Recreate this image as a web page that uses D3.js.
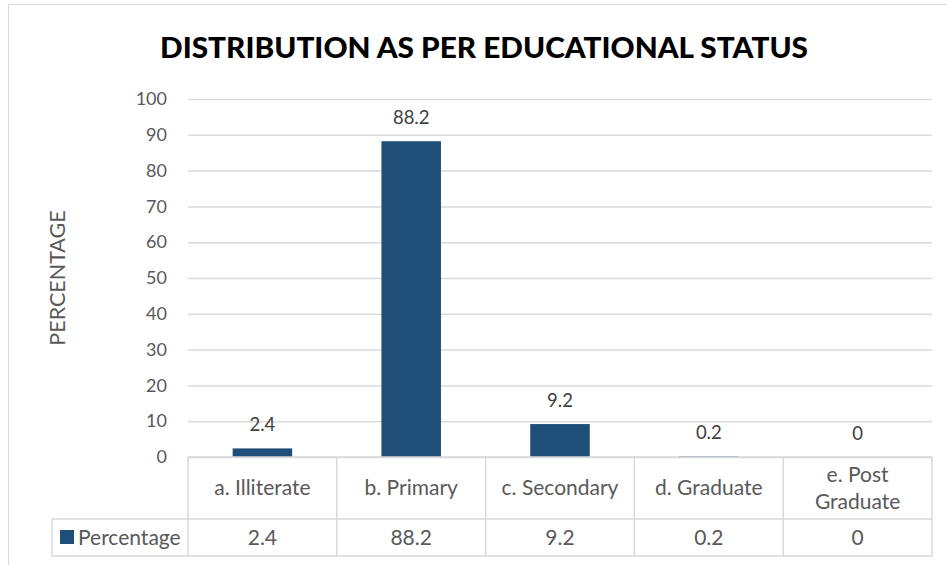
<!DOCTYPE html>
<html>
<head>
<meta charset="utf-8">
<script src="https://cdn.jsdelivr.net/npm/d3@7"></script>
<style>
  body { margin: 0; background: #fff; }
  svg { display: block; font-family: Lato, "Open Sans", sans-serif; }
</style>
</head>
<body>
<svg id="chart"></svg>
<script>
// chart values
const categories = ["a. Illiterate", "b. Primary", "c. Secondary", "d. Graduate", "e. Post Graduate"];
const percentages = [2.4, 88.2, 9.2, 0.2, 0];
const yTicks = [0, 10, 20, 30, 40, 50, 60, 70, 80, 90, 100];
const seriesName = "Percentage";

const W = 947, H = 565;
const margin = { top: 99, left: 188, right: 15, bottom: 108 };
const width = W - margin.left - margin.right;
const height = H - margin.top - margin.bottom;
const barColor = "#1f4e79";
const gridColor = "#d9d9d9";
const textColor = "#595959";
const tableFont = 21;

const svg = d3.select("#chart")
    .attr("width", W)
    .attr("height", H)
    .attr("viewBox", [0, 0, W, H]);

// outer chart border
svg.append("rect")
    .attr("x", 8.5).attr("y", 4.5)
    .attr("width", 1000).attr("height", 700)
    .attr("fill", "#fff")
    .attr("stroke", gridColor);

// title
svg.append("text")
    .attr("x", 484)
    .attr("y", 58)
    .attr("text-anchor", "middle")
    .attr("font-size", 29)
    .attr("font-weight", "900")
    .attr("fill", "#000")
    .attr("textLength", 648)
    .attr("lengthAdjust", "spacingAndGlyphs")
    .text("DISTRIBUTION AS PER EDUCATIONAL STATUS");

const x = d3.scaleBand().domain(categories).range([0, width]).padding(0);
const y = d3.scaleLinear().domain([0, 100]).range([height, 0]);

const g = svg.append("g").attr("transform", `translate(${margin.left},${margin.top})`);

// y axis with grid lines
const yAxis = g.append("g")
    .call(d3.axisLeft(y).tickValues(yTicks).tickSize(-width).tickPadding(21));
yAxis.select(".domain").remove();
yAxis.selectAll(".tick line").attr("stroke", gridColor).attr("stroke-width", 1.5);
yAxis.selectAll(".tick text")
    .attr("fill", textColor)
    .attr("font-size", 18)
    .attr("font-family", "Lato, sans-serif");

// y axis label
svg.append("text")
    .attr("transform", `translate(65,278) rotate(-90)`)
    .attr("text-anchor", "middle")
    .attr("font-size", 21.5)
    .attr("fill", textColor)
    .text("PERCENTAGE");

// bars
const barW = x.bandwidth() * 0.4;
g.selectAll("rect.bar")
    .data(percentages)
    .join("rect")
    .attr("class", "bar")
    .attr("x", (d, i) => x(categories[i]) + (x.bandwidth() - barW) / 2)
    .attr("y", d => y(d))
    .attr("width", barW)
    .attr("height", d => height - y(d))
    .attr("fill", barColor);

// bar value labels
g.selectAll("text.lbl")
    .data(percentages)
    .join("text")
    .attr("class", "lbl")
    .attr("x", (d, i) => x(categories[i]) + x.bandwidth() / 2)
    .attr("y", d => y(d) - 17)
    .attr("text-anchor", "middle")
    .attr("font-size", 18.5)
    .attr("fill", "#404040")
    .text(d => d);

// data table below the plot
const row1 = height, row2 = height + 62, row3 = height + 99;
const legendLeft = 52 - margin.left;
const table = g.append("g")
    .attr("stroke", gridColor)
    .attr("stroke-width", 1.5)
    .attr("fill", "none");

table.append("line").attr("x1", 0).attr("x2", width).attr("y1", row1).attr("y2", row1);
table.append("line").attr("x1", legendLeft).attr("x2", width).attr("y1", row2).attr("y2", row2);
table.append("line").attr("x1", legendLeft).attr("x2", width).attr("y1", row3).attr("y2", row3);
table.append("line").attr("x1", legendLeft).attr("x2", legendLeft).attr("y1", row2).attr("y2", row3);
table.selectAll("line.col")
    .data(categories.concat(["end"]))
    .join("line")
    .attr("class", "col")
    .attr("x1", d => d === "end" ? width : x(d))
    .attr("x2", d => d === "end" ? width : x(d))
    .attr("y1", row1)
    .attr("y2", row3);

// category labels (wrapped when needed)
const catWrap = {
    "e. Post Graduate": ["e. Post", "Graduate"]
};
categories.forEach(c => {
    const lines = catWrap[c] || [c];
    const t = g.append("text")
        .attr("text-anchor", "middle")
        .attr("font-size", tableFont)
        .attr("fill", textColor);
    lines.forEach((l, k) => {
        t.append("tspan")
            .attr("x", x(c) + x.bandwidth() / 2)
            .attr("y", row1 + 38 + (k - (lines.length - 1) / 2) * 27)
            .text(l);
    });
});

// value row
g.selectAll("text.val")
    .data(percentages)
    .join("text")
    .attr("class", "val")
    .attr("x", (d, i) => x(categories[i]) + x.bandwidth() / 2)
    .attr("y", row2 + 26)
    .attr("text-anchor", "middle")
    .attr("font-size", tableFont)
    .attr("fill", textColor)
    .text(d => d);

// legend key in table
g.append("rect")
    .attr("x", 60 - margin.left)
    .attr("y", row2 + 11)
    .attr("width", 14)
    .attr("height", 14)
    .attr("fill", barColor);
g.append("text")
    .attr("x", 78 - margin.left)
    .attr("y", row2 + 26)
    .attr("font-size", tableFont)
    .attr("fill", textColor)
    .text(seriesName);
</script>
</body>
</html>
